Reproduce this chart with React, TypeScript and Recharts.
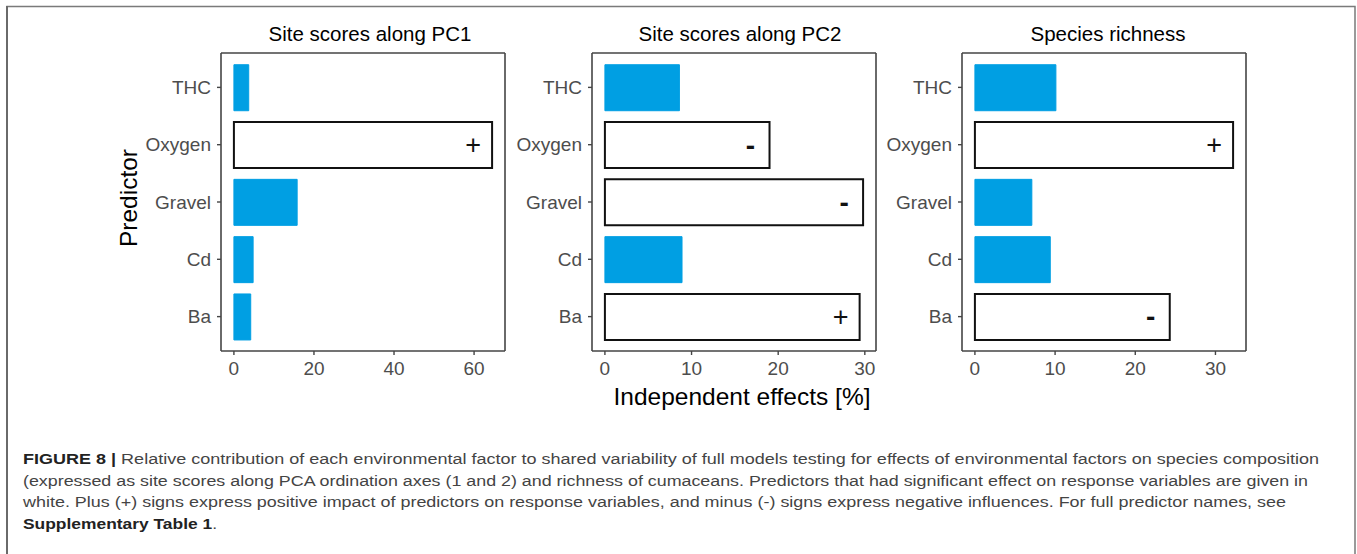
import { BarChart, Bar, XAxis, YAxis, Cell, LabelList } from "recharts";

// Predictors, top to bottom
const predictors = ["THC", "Oxygen", "Gravel", "Cd", "Ba"];

// Independent effects [%] per response
const pc1Effects = [3.7, 64.5, 15.8, 4.8, 4.2];
const pc2Effects = [8.6, 19.0, 29.8, 8.9, 29.4];
const richnessEffects = [10.1, 32.2, 7.1, 9.4, 24.3];

// Direction of significant effects ("" = not significant)
const pc1Signs = ["", "+", "", "", ""];
const pc2Signs = ["", "-", "-", "", "+"];
const richnessSigns = ["", "+", "", "", "-"];

const pc1Ticks = [0, 20, 40, 60];
const pc2Ticks = [0, 10, 20, 30];
const richnessTicks = [0, 10, 20, 30];

const BLUE = "#009FE3";
const AXIS = "#454545";
const TICK_TEXT = "#4d4d4d";
const FONT = "'Liberation Sans', Arial, sans-serif";

const PLOT_TOP = 53;
const PLOT_H = 298;
const PLOT_W = 284;
const Y_AXIS_W = 100;

const SignLabel = (props: any) => {
  const { x, y, width, height, value } = props;
  if (!value) return null;
  return (
    <text
      x={x + width - 19}
      y={y + height / 2}
      textAnchor="middle"
      dominantBaseline="central"
      fontSize={value === "+" ? 27 : 28}
      fontWeight={value === "+" ? 400 : 700}
      fontFamily={FONT}
      fill="#111"
    >
      {value}
    </text>
  );
};

type PanelProps = {
  left: number;
  values: number[];
  signs: string[];
  ticks: number[];
};

const Panel = ({ left, values, signs, ticks }: PanelProps) => {
  const data = predictors.map((name, i) => ({ name, value: values[i], sign: signs[i] }));
  const max = Math.max(...values);
  const pad = max * 0.05;
  const domain = [-pad, max + pad];
  const band = PLOT_H / 5.2;
  const catPad = band * 0.1;

  return (
    <div style={{ position: "absolute", left: left - Y_AXIS_W, top: 0 }}>
      <BarChart
        width={Y_AXIS_W + PLOT_W + 10}
        height={PLOT_TOP + PLOT_H + 40}
        data={data}
        layout="vertical"
        margin={{ top: PLOT_TOP - 1, right: 9, left: 0, bottom: 0 }}
        barCategoryGap={0}
      >
        <XAxis
          type="number"
          domain={domain}
          ticks={ticks}
          allowDataOverflow
          height={40}
          axisLine={{ stroke: AXIS, strokeWidth: 1.6 }}
          tickLine={{ stroke: AXIS, strokeWidth: 1.4 }}
          tickSize={4}
          tickMargin={7}
          tick={{ fill: TICK_TEXT, fontSize: 19, fontFamily: FONT }}
        />
        {/* top edge of the panel border */}
        <XAxis
          xAxisId="top"
          orientation="top"
          type="number"
          domain={domain}
          allowDataOverflow
          height={1}
          tick={false}
          tickLine={false}
          axisLine={{ stroke: AXIS, strokeWidth: 1.6 }}
        />
        <YAxis
          type="category"
          dataKey="name"
          width={Y_AXIS_W}
          padding={{ top: catPad, bottom: catPad }}
          axisLine={{ stroke: AXIS, strokeWidth: 1.6 }}
          tickLine={{ stroke: AXIS, strokeWidth: 1.4 }}
          tickSize={4}
          tickMargin={6}
          tick={{ fill: TICK_TEXT, fontSize: 19, fontFamily: FONT }}
        />
        {/* right edge of the panel border */}
        <YAxis
          yAxisId="right"
          orientation="right"
          type="category"
          dataKey="name"
          width={1}
          tick={false}
          tickLine={false}
          axisLine={{ stroke: AXIS, strokeWidth: 1.6 }}
        />
        <Bar dataKey="value" barSize={46} isAnimationActive={false}>
          {data.map((d) => (
            <Cell
              key={d.name}
              fill={d.sign ? "#ffffff" : BLUE}
              stroke={d.sign ? "#111111" : BLUE}
              strokeWidth={d.sign ? 2 : 1}
            />
          ))}
          <LabelList dataKey="sign" content={SignLabel} />
        </Bar>
      </BarChart>
    </div>
  );
};

export default function App() {
  return (
    <div
      style={{
        position: "absolute",
        left: 0,
        top: 0,
        width: 1357,
        height: 554,
        background: "#fff",
        fontFamily: FONT,
      }}
    >
      <Panel left={221} values={pc1Effects} signs={pc1Signs} ticks={pc1Ticks} />
      <Panel left={592} values={pc2Effects} signs={pc2Signs} ticks={pc2Ticks} />
      <Panel left={962} values={richnessEffects} signs={richnessSigns} ticks={richnessTicks} />

      <svg
        width={1357}
        height={554}
        style={{ position: "absolute", left: 0, top: 0, pointerEvents: "none" }}
      >
        {/* figure frame */}
        <path d="M7,554 V6.5 H1355 V554" fill="none" stroke="#7a7a7a" strokeWidth={1.5} />
        <line x1={7} y1={6} x2={7} y2={554} stroke="#6a6a6a" strokeWidth={2} />

        {/* panel titles */}
        <g fontFamily={FONT} fontSize={20.5} fill="#000" textAnchor="middle">
          <text x={370} y={40.5}>Site scores along PC1</text>
          <text x={740} y={40.5}>Site scores along PC2</text>
          <text x={1108} y={40.5}>Species richness</text>
        </g>

        {/* axis titles */}
        <text x={742} y={405} fontFamily={FONT} fontSize={24.5} textAnchor="middle" fill="#000">
          Independent effects [%]
        </text>
        <text
          x={0}
          y={0}
          transform="translate(137,198) rotate(-90)"
          fontFamily={FONT}
          fontSize={24.5}
          textAnchor="middle"
          fill="#000"
        >
          Predictor
        </text>

        {/* caption */}
        <g fontFamily="'Liberation Sans Narrow', 'Liberation Sans', Arial, sans-serif" fontSize={15.5} fill="#444">
          <text x={23} y={464} textLength={1296} lengthAdjust="spacingAndGlyphs">
            <tspan fontWeight={700} fill="#222">FIGURE 8 |</tspan>
            {" Relative contribution of each environmental factor to shared variability of full models testing for effects of environmental factors on species composition"}
          </text>
          <text x={23} y={485.5} textLength={1285} lengthAdjust="spacingAndGlyphs">
            (expressed as site scores along PCA ordination axes (1 and 2) and richness of cumaceans. Predictors that had significant effect on response variables are given in
          </text>
          <text x={23} y={507} textLength={1263} lengthAdjust="spacingAndGlyphs">
            white. Plus (+) signs express positive impact of predictors on response variables, and minus (-) signs express negative influences. For full predictor names, see
          </text>
          <text x={23} y={528.5} textLength={194} lengthAdjust="spacingAndGlyphs">
            <tspan fontWeight={700} fill="#222">Supplementary Table 1</tspan>.
          </text>
        </g>
      </svg>
    </div>
  );
}
